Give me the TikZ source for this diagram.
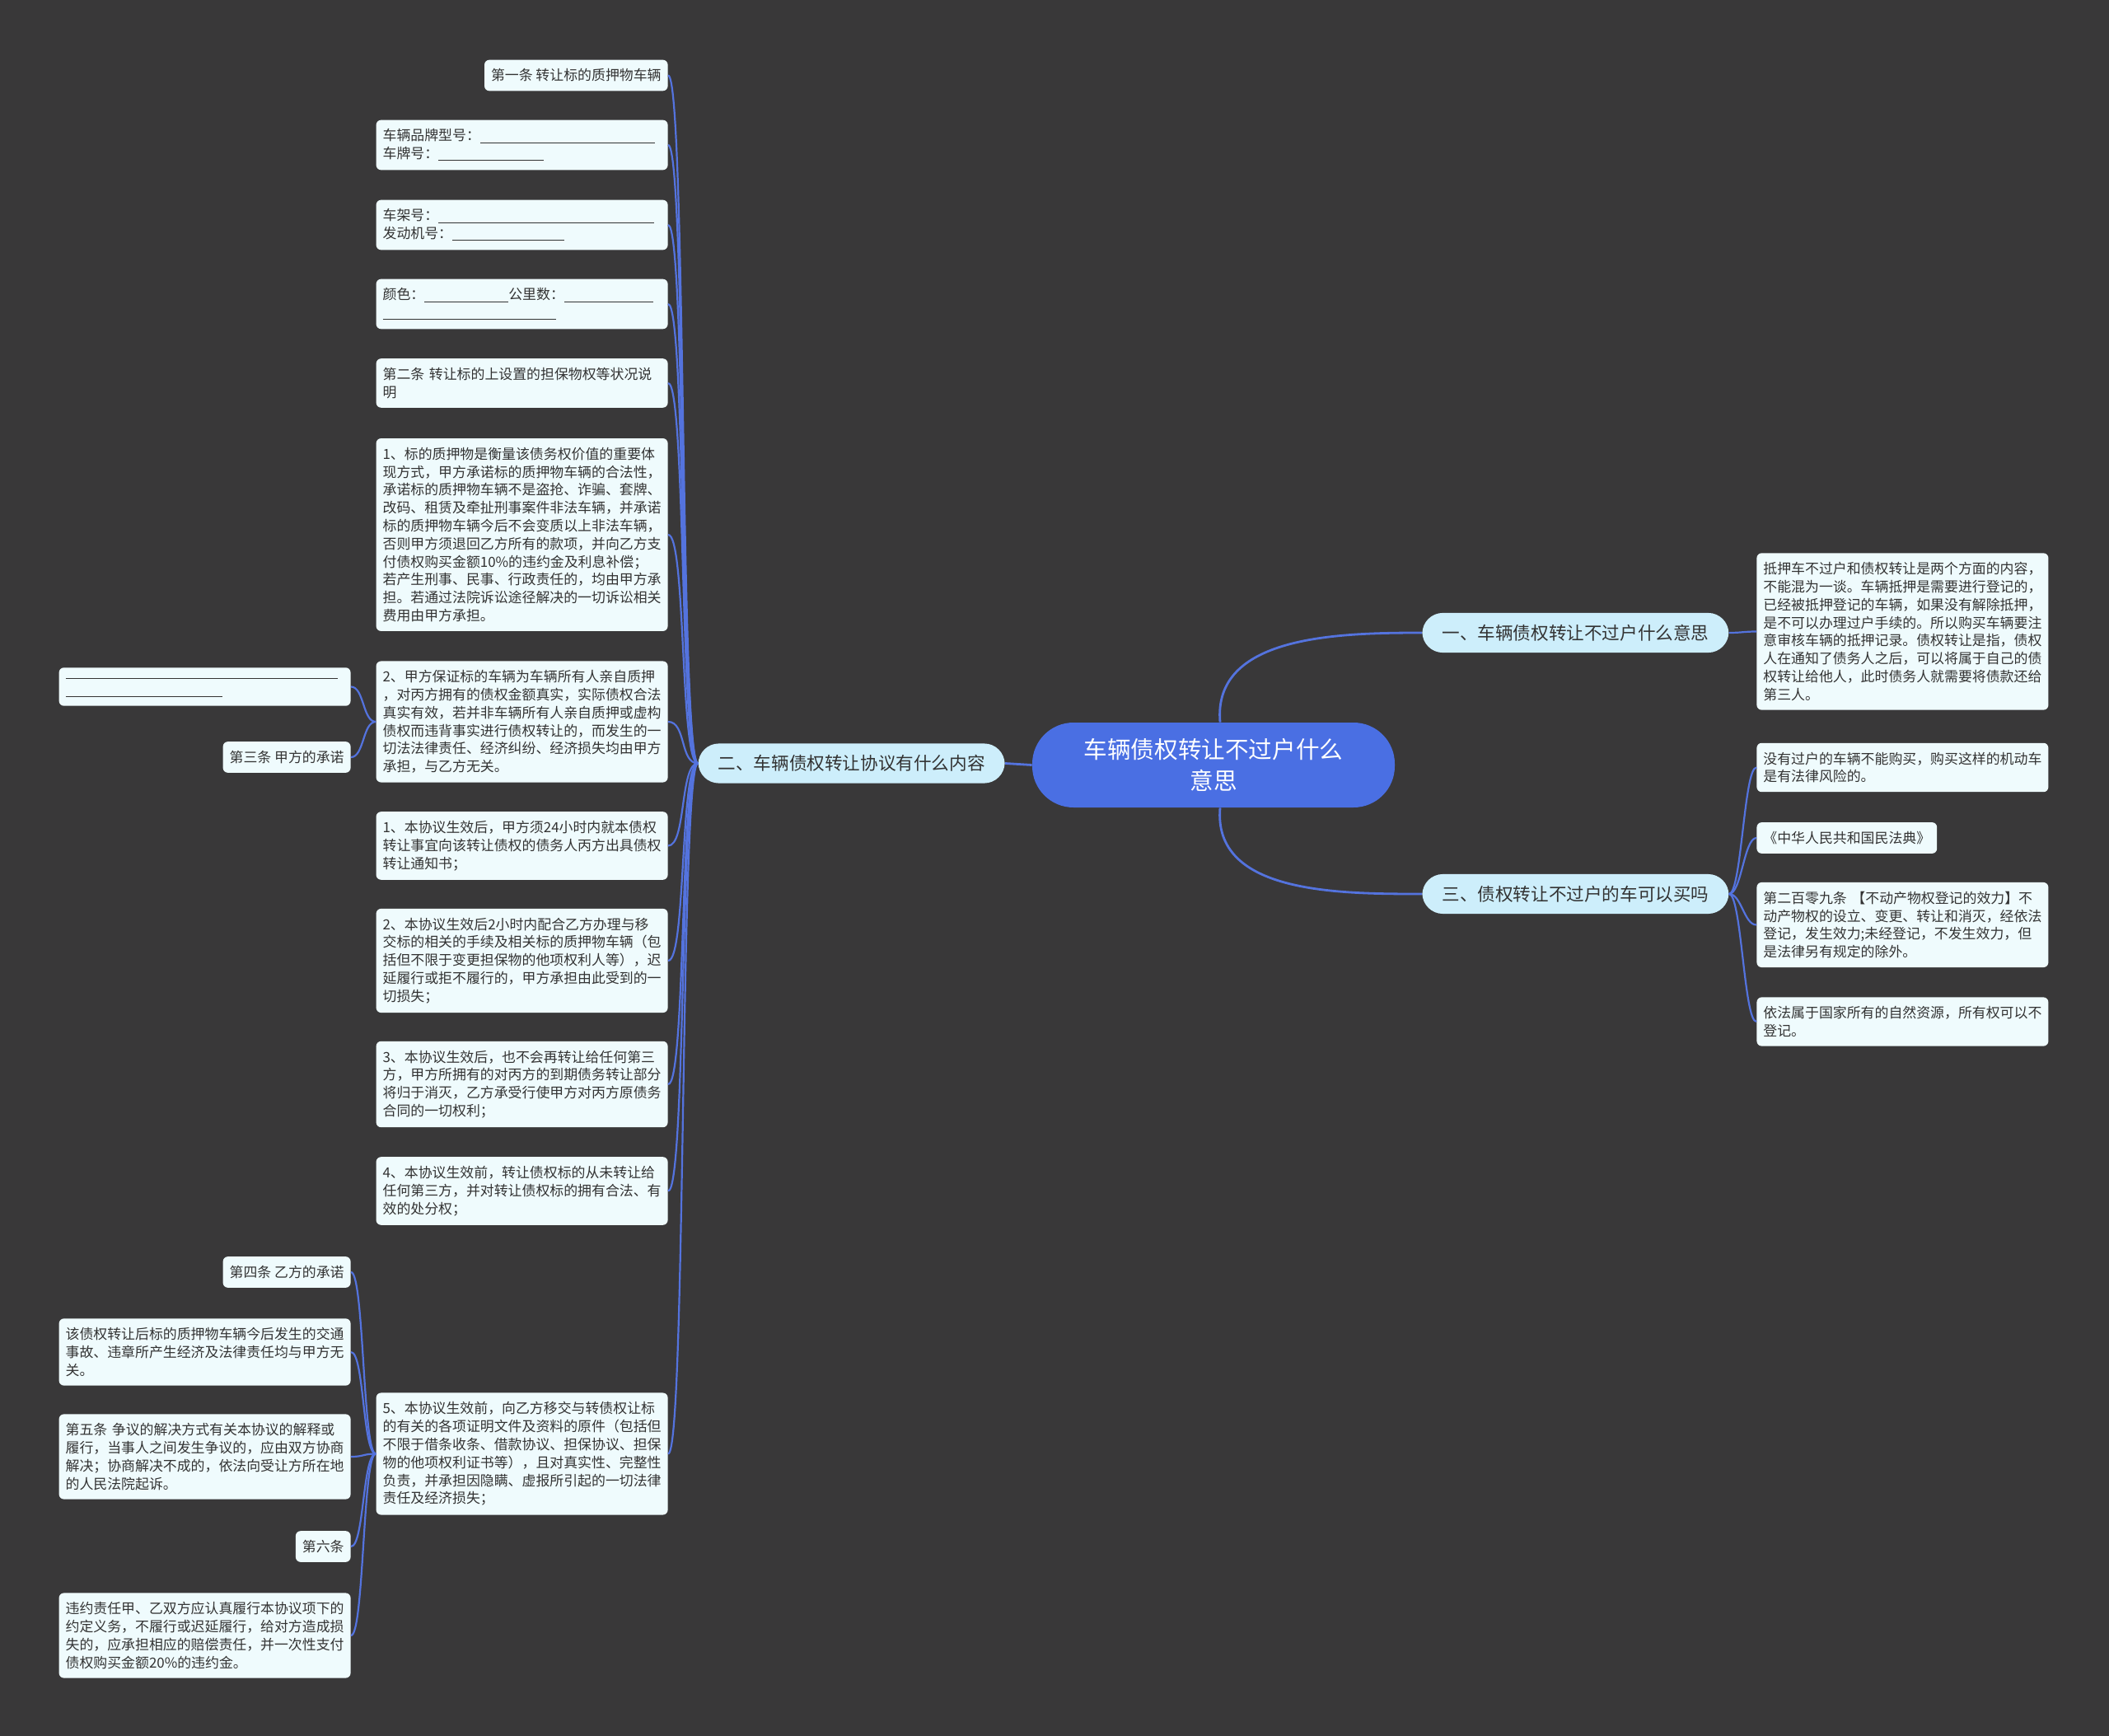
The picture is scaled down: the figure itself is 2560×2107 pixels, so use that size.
\documentclass[tikz,border=0pt]{standalone}
\usepackage{fontspec}
\setmainfont{Noto Sans CJK SC}
\definecolor{bgc}{RGB}{57,56,57}
\definecolor{leafc}{RGB}{239,251,253}
\definecolor{branchc}{RGB}{205,238,251}
\definecolor{rootc}{RGB}{74,111,227}
\definecolor{linec}{RGB}{84,115,222}
\definecolor{txtc}{RGB}{51,51,51}
\newcommand{\blankline}[1]{\rule[-1.3pt]{#1}{0.45pt}}

\begin{document}
\begin{tikzpicture}[x=0.5pt,y=-0.5pt,every node/.style={text=txtc},
  tagbox/.style={fill=leafc,rounded corners=3pt,inner xsep=4pt,inner ysep=5.5pt,font=\fontsize{8.45pt}{10.9pt}\selectfont},
  leafbox/.style={tagbox,text width=169pt,align=left},
  branchbox/.style={fill=branchc,rounded corners=12.5pt,inner xsep=12pt,inner ysep=7pt,font=\fontsize{10.8pt}{13pt}\selectfont},
  rootbox/.style={fill=rootc,text=white,rounded corners=25pt,minimum width=220pt,minimum height=51.5pt,align=center,font=\fontsize{14.3pt}{18.8pt}\selectfont},
  linkline/.style={draw=linec,line width=1.1pt}]
\fill[bgc] (0,0) rectangle (2560,2107);

% centre and main branches
\node[rootbox] (rootn) at (1473,928.5) {车辆债权转让不过户什么\\意思};
\node[branchbox,anchor=west] (b1) at (1726,768) {一、车辆债权转让不过户什么意思};
\node[branchbox,anchor=east] (b2) at (1220,926.5) {二、车辆债权转让协议有什么内容};
\node[branchbox,anchor=west] (b3) at (1726,1085) {三、债权转让不过户的车可以买吗};

% left column
\node[tagbox,anchor=east] (l1) at (811,91.5) {第一条 转让标的质押物车辆};
\node[leafbox,anchor=east] (l2) at (811,176) {车辆品牌型号：\blankline{106pt}\\车牌号：\blankline{64pt}};
\node[leafbox,anchor=east] (l3) at (811,273) {车架号：\blankline{131pt}\\发动机号：\blankline{68pt}};
\node[leafbox,anchor=east] (l4) at (811,369) {颜色：\blankline{51pt}公里数：\blankline{54pt}\\\blankline{105pt}};
\node[leafbox,anchor=east] (l5) at (811,465) {第二条 转让标的上设置的担保物权等状况说\\明};
\node[leafbox,anchor=east] (l6) at (811,649) {1、标的质押物是衡量该债务权价值的重要体\\现方式，甲方承诺标的质押物车辆的合法性，\\承诺标的质押物车辆不是盗抢、诈骗、套牌、\\改码、租赁及牵扯刑事案件非法车辆，并承诺\\标的质押物车辆今后不会变质以上非法车辆，\\否则甲方须退回乙方所有的款项，并向乙方支\\付债权购买金额10\%的违约金及利息补偿；\\若产生刑事、民事、行政责任的，均由甲方承\\担。若通过法院诉讼途径解决的一切诉讼相关\\费用由甲方承担。};
\node[leafbox,anchor=east] (l7) at (811,876) {2、甲方保证标的车辆为车辆所有人亲自质押\\，对丙方拥有的债权金额真实，实际债权合法\\真实有效，若并非车辆所有人亲自质押或虚构\\债权而违背事实进行债权转让的，而发生的一\\切法法律责任、经济纠纷、经济损失均由甲方\\承担，与乙方无关。};
\node[leafbox,anchor=east] (l8) at (811,1026.5) {1、本协议生效后，甲方须24小时内就本债权\\转让事宜向该转让债权的债务人丙方出具债权\\转让通知书；};
\node[leafbox,anchor=east] (l9) at (811,1166) {2、本协议生效后2小时内配合乙方办理与移\\交标的相关的手续及相关标的质押物车辆（包\\括但不限于变更担保物的他项权利人等），迟\\延履行或拒不履行的，甲方承担由此受到的一\\切损失；};
\node[leafbox,anchor=east] (l10) at (811,1316) {3、本协议生效后，也不会再转让给任何第三\\方，甲方所拥有的对丙方的到期债务转让部分\\将归于消灭，乙方承受行使甲方对丙方原债务\\合同的一切权利；};
\node[leafbox,anchor=east] (l11) at (811,1445.5) {4、本协议生效前，转让债权标的从未转让给\\任何第三方，并对转让债权标的拥有合法、有\\效的处分权；};
\node[leafbox,anchor=east] (l12) at (811,1764.5) {5、本协议生效前，向乙方移交与转债权让标\\的有关的各项证明文件及资料的原件（包括但\\不限于借条收条、借款协议、担保协议、担保\\物的他项权利证书等），且对真实性、完整性\\负责，并承担因隐瞒、虚报所引起的一切法律\\责任及经济损失；};

% outer left column
\node[leafbox,anchor=east] (a1) at (426,833.5) {\blankline{165pt}\\\blankline{95pt}};
\node[tagbox,anchor=east] (a2) at (426,919) {第三条 甲方的承诺};
\node[tagbox,anchor=east] (c1) at (426,1544) {第四条 乙方的承诺};
\node[leafbox,anchor=east] (c2) at (426,1641) {该债权转让后标的质押物车辆今后发生的交通\\事故、违章所产生经济及法律责任均与甲方无\\关。};
\node[leafbox,anchor=east] (c3) at (426,1768) {第五条 争议的解决方式有关本协议的解释或\\履行，当事人之间发生争议的，应由双方协商\\解决；协商解决不成的，依法向受让方所在地\\的人民法院起诉。};
\node[tagbox,anchor=east] (c4) at (426,1877) {第六条};
\node[leafbox,anchor=east] (c5) at (426,1985) {违约责任甲、乙双方应认真履行本协议项下的\\约定义务，不履行或迟延履行，给对方造成损\\失的，应承担相应的赔偿责任，并一次性支付\\债权购买金额20\%的违约金。};

% right column
\node[leafbox,anchor=west] (r1) at (2132,766.5) {抵押车不过户和债权转让是两个方面的内容，\\不能混为一谈。车辆抵押是需要进行登记的，\\已经被抵押登记的车辆，如果没有解除抵押，\\是不可以办理过户手续的。所以购买车辆要注\\意审核车辆的抵押记录。债权转让是指，债权\\人在通知了债务人之后，可以将属于自己的债\\权转让给他人，此时债务人就需要将债款还给\\第三人。};
\node[leafbox,anchor=west] (r2) at (2132,931.5) {没有过户的车辆不能购买，购买这样的机动车\\是有法律风险的。};
\node[tagbox,anchor=west] (r3) at (2132,1017) {《中华人民共和国民法典》};
\node[leafbox,anchor=west] (r4) at (2132,1122.5) {第二百零九条 【不动产物权登记的效力】不\\动产物权的设立、变更、转让和消灭，经依法\\登记，发生效力;未经登记，不发生效力，但\\是法律另有规定的除外。};
\node[leafbox,anchor=west] (r5) at (2132,1240) {依法属于国家所有的自然资源，所有权可以不\\登记。};

% connectors
\draw[linkline,line width=1.4pt] (rootn.west) -- (b2.east);
\draw[linkline,line width=1.4pt] ([xshift=4pt]rootn.north) to[out=95,in=180] (b1.west);
\draw[linkline,line width=1.4pt] ([xshift=4pt]rootn.south) to[out=-95,in=180] (b3.west);
\draw[linkline] (b2.west) .. controls +(-22,0) and +(22,0) .. (l1.east); \draw[linkline] (b2.west) .. controls +(-22,0) and +(22,0) .. (l2.east);
\draw[linkline] (b2.west) .. controls +(-22,0) and +(22,0) .. (l3.east); \draw[linkline] (b2.west) .. controls +(-22,0) and +(22,0) .. (l4.east);
\draw[linkline] (b2.west) .. controls +(-22,0) and +(22,0) .. (l5.east); \draw[linkline] (b2.west) .. controls +(-22,0) and +(22,0) .. (l6.east);
\draw[linkline] (b2.west) .. controls +(-22,0) and +(22,0) .. (l7.east); \draw[linkline] (b2.west) .. controls +(-22,0) and +(22,0) .. (l8.east);
\draw[linkline] (b2.west) .. controls +(-22,0) and +(22,0) .. (l9.east); \draw[linkline] (b2.west) .. controls +(-22,0) and +(22,0) .. (l10.east);
\draw[linkline] (b2.west) .. controls +(-22,0) and +(22,0) .. (l11.east); \draw[linkline] (b2.west) .. controls +(-22,0) and +(22,0) .. (l12.east);
\draw[linkline] (l7.west) .. controls +(-16,0) and +(16,0) .. (a1.east); \draw[linkline] (l7.west) .. controls +(-16,0) and +(16,0) .. (a2.east);
\draw[linkline] (l12.west) .. controls +(-16,0) and +(16,0) .. (c1.east); \draw[linkline] (l12.west) .. controls +(-16,0) and +(16,0) .. (c2.east);
\draw[linkline] (l12.west) .. controls +(-16,0) and +(16,0) .. (c3.east); \draw[linkline] (l12.west) .. controls +(-16,0) and +(16,0) .. (c4.east);
\draw[linkline] (l12.west) .. controls +(-16,0) and +(16,0) .. (c5.east);
\draw[linkline] (b1.east) .. controls +(15,0) and +(-15,0) .. (r1.west);
\draw[linkline] (b3.east) .. controls +(15,0) and +(-15,0) .. (r2.west); \draw[linkline] (b3.east) .. controls +(15,0) and +(-15,0) .. (r3.west);
\draw[linkline] (b3.east) .. controls +(15,0) and +(-15,0) .. (r4.west); \draw[linkline] (b3.east) .. controls +(15,0) and +(-15,0) .. (r5.west);
\end{tikzpicture}
\end{document}
